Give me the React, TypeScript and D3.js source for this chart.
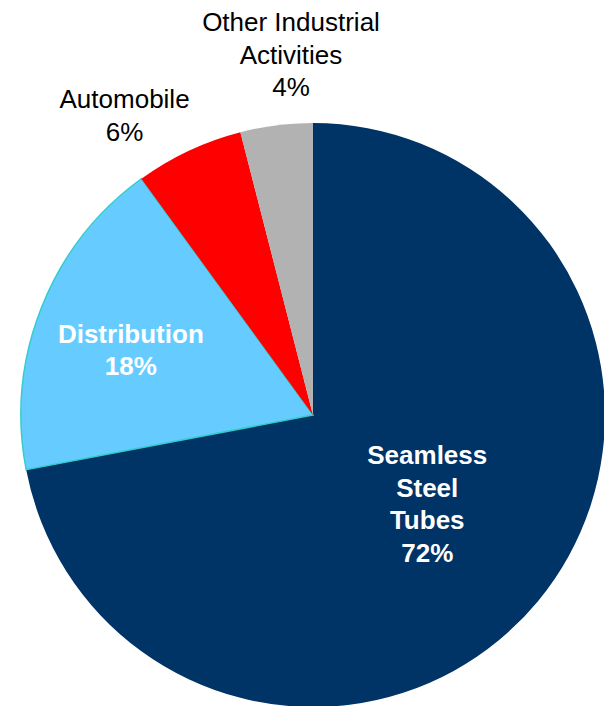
import { useEffect, useRef } from "react";
import * as d3 from "d3";

// chart data
const segments = ["Seamless Steel Tubes", "Distribution", "Automobile", "Other Industrial Activities"];
const shares = [72, 18, 6, 4];
const labelLines = [
  ["Seamless", "Steel", "Tubes", "72%"],
  ["Distribution", "18%"],
  ["Automobile", "6%"],
  ["Other Industrial", "Activities", "4%"],
];
const colors = ["#003366", "#66CCFF", "#FF0000", "#B2B2B2"];

const width = 604;
const height = 706;

const App = () => {
  const ref = useRef<SVGSVGElement>(null);

  useEffect(() => {
    document.body.style.margin = "0";
    const svg = d3.select(ref.current);
    svg.selectAll("*").remove();

    const cx = 313;
    const cy = 415;
    const radius = 292;

    const pie = d3
      .pie<number>()
      .sort(null)
      .startAngle(0)
      .endAngle(2 * Math.PI)
      .value((d) => d);
    const arcs = pie(shares);

    const arc = d3.arc<d3.PieArcDatum<number>>().innerRadius(0).outerRadius(radius);

    const g = svg.append("g").attr("transform", `translate(${cx},${cy})`);

    g.selectAll("path.slice")
      .data(arcs)
      .enter()
      .append("path")
      .attr("class", "slice")
      .attr("d", arc)
      .attr("fill", (_, i) => colors[i])
      .attr("stroke", (_, i) => (i === 1 ? "#33CCCC" : "none"))
      .attr("stroke-width", 1.5);

    // label placement: radius factor + nudge per slice
    const labelRadius = [0.49, 0.66, 1.21, 1.23];
    const nudge = [
      [4, -2],
      [-3, 6],
      [-38, 20],
      [23, -4],
    ];
    const inside = [true, true, false, false];
    const lineH = 32.5;

    arcs.forEach((a, i) => {
      const mid = (a.startAngle + a.endAngle) / 2;
      const r = radius * labelRadius[i];
      const x = Math.sin(mid) * r + nudge[i][0];
      const y = -Math.cos(mid) * r + nudge[i][1];
      const lines = labelLines[i];
      const text = g
        .append("text")
        .attr("text-anchor", "middle")
        .attr("font-family", "Liberation Sans, Arial, sans-serif")
        .attr("font-size", 26)
        .attr("font-weight", inside[i] ? "bold" : "normal")
        .attr("fill", inside[i] ? "#FFFFFF" : "#000000")
        .attr("aria-label", segments[i]);
      const top = y - ((lines.length - 1) * lineH) / 2 + 9;
      lines.forEach((ln, j) => {
        text.append("tspan").attr("x", x).attr("y", top + j * lineH).text(ln);
      });
    });
  }, []);

  return (
    <svg
      ref={ref}
      width={width}
      height={height}
      style={{ display: "block", background: "#FFFFFF" }}
    />
  );
};

export default App;
